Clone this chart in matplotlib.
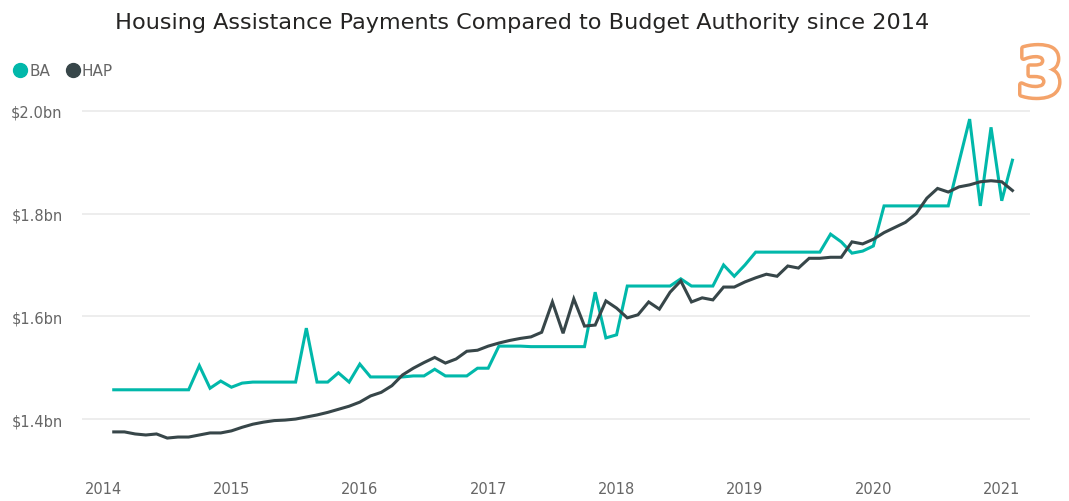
import numpy as np
import matplotlib.pyplot as plt
import matplotlib.patheffects as pe
from matplotlib.lines import Line2D

# monthly values, Jan 2014 .. Jan 2021 ($bn)
ba = [1.457, 1.457, 1.457, 1.457, 1.457, 1.457, 1.457, 1.457, 1.504, 1.460,
      1.474, 1.462, 1.470, 1.472, 1.472, 1.472, 1.472, 1.472, 1.577, 1.472,
      1.472, 1.490, 1.472, 1.507, 1.482, 1.482, 1.482, 1.482, 1.484, 1.484,
      1.497, 1.484, 1.484, 1.484, 1.499, 1.499, 1.542, 1.542, 1.542, 1.541,
      1.541, 1.541, 1.541, 1.541, 1.541, 1.647, 1.558, 1.564, 1.659, 1.659,
      1.659, 1.659, 1.659, 1.673, 1.659, 1.659, 1.659, 1.700, 1.678, 1.700,
      1.725, 1.725, 1.725, 1.725, 1.725, 1.725, 1.725, 1.760, 1.745, 1.723,
      1.727, 1.737, 1.815, 1.815, 1.815, 1.815, 1.815, 1.815, 1.815, 1.900,
      1.984, 1.815, 1.968, 1.825, 1.904]
hap = [1.375, 1.375, 1.371, 1.369, 1.371, 1.363, 1.365, 1.365, 1.369, 1.373,
       1.373, 1.377, 1.384, 1.390, 1.394, 1.397, 1.398, 1.400, 1.404, 1.408,
       1.413, 1.419, 1.425, 1.433, 1.445, 1.452, 1.465, 1.486, 1.499, 1.510,
       1.520, 1.509, 1.517, 1.532, 1.534, 1.542, 1.548, 1.553, 1.557, 1.560,
       1.569, 1.628, 1.567, 1.634, 1.581, 1.583, 1.630, 1.616, 1.597, 1.603,
       1.628, 1.614, 1.647, 1.669, 1.628, 1.636, 1.632, 1.657, 1.657, 1.667,
       1.675, 1.682, 1.678, 1.698, 1.694, 1.713, 1.713, 1.715, 1.715, 1.745,
       1.741, 1.750, 1.763, 1.773, 1.783, 1.800, 1.830, 1.849, 1.842, 1.852,
       1.856, 1.862, 1.864, 1.862, 1.845]
years = [2014, 2015, 2016, 2017, 2018, 2019, 2020, 2021]
yticks = [1.4, 1.6, 1.8, 2.0]

t = 2014 + (np.arange(len(ba)) + 1) / 12

fig = plt.figure(figsize=(10.69, 5.02), dpi=100)
ax = fig.add_axes([0.0767, 0.0916, 0.8868, 0.706])

c_ba = '#01B8AA'
c_hap = '#374649'
ax.plot(t, ba, color=c_ba, lw=2.2, solid_joinstyle='miter')
ax.plot(t, hap, color=c_hap, lw=2.2, solid_joinstyle='miter')

ax.set_xlim(2013.836, 2021.22)
ax.set_ylim(1.33, 2.02)
ax.set_xticks(years)
ax.set_xticklabels([str(y) for y in years])
ax.set_yticks(yticks)
ax.set_yticklabels(['$%.1fbn' % v for v in yticks])
ax.tick_params(axis='both', length=0, labelsize=10.5, labelcolor='#666666')
ax.tick_params(axis='x', pad=19)
ax.tick_params(axis='y', pad=14)
ax.grid(axis='y', color='#EAEAEA', lw=1.2)
ax.set_axisbelow(True)
for s in ax.spines.values():
    s.set_visible(False)

fig.text(0.488, 0.955, 'Housing Assistance Payments Compared to Budget Authority since 2014',
         ha='center', va='center', fontsize=16.1, color='#252423')

# legend
handles = [Line2D([], [], ls='none', marker='o', ms=10, color=c_ba),
           Line2D([], [], ls='none', marker='o', ms=10, color=c_hap)]
fig.legend(handles, ['BA', 'HAP'], loc='center left', bbox_to_anchor=(0.0, 0.857),
           ncol=2, frameon=False, fontsize=11, labelcolor='#666666',
           handlelength=0.8, handletextpad=0.2, columnspacing=1.1)

fig.text(0.973, 0.845, '3', ha='center', va='center', fontsize=48, fontweight='bold',
         color='white', path_effects=[pe.withStroke(linewidth=5, foreground='#F4A36A')])

fig.savefig('out.png', dpi=100, facecolor='white')
